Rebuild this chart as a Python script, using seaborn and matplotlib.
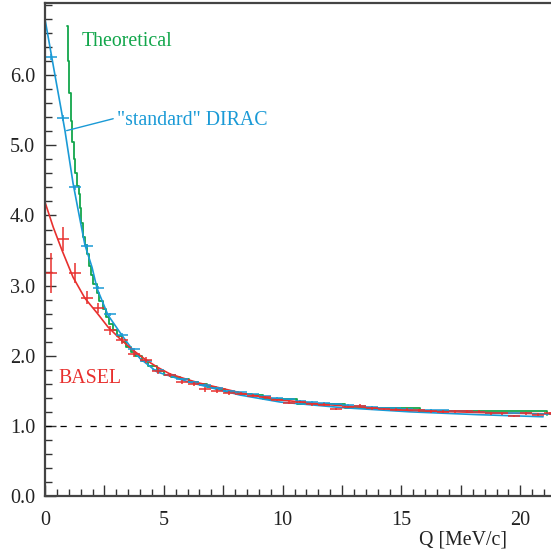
"""
Coulomb correction vs Q: theoretical histogram, DIRAC and BASEL results.
"""

import numpy as np
import pandas as pd
import matplotlib
matplotlib.use('Agg')
import matplotlib.pyplot as plt
from matplotlib.ticker import MultipleLocator, FixedLocator, FuncFormatter
import seaborn as sns


GREEN = '#12a64b'
BLUE = '#1a9ad6'
RED = '#e8302e'

# bin centres of the measured points [MeV/c]
q_bins = np.arange(0.25, 21.5, 0.5)

basel_pts = [3.18, 3.66, 3.18, 2.83, 2.68, 2.36, 2.22, 2.03, 1.94, 1.78,
             1.73, 1.63, 1.60, 1.52, 1.50, 1.47, 1.46, 1.43, 1.41, 1.37,
             1.33, 1.34, 1.31, 1.30, 1.24, 1.27, 1.29, 1.25, 1.24, 1.23,
             1.23, 1.22, 1.21, 1.20, 1.21, 1.21, 1.20, 1.18, 1.18, 1.14,
             1.18, 1.16, 1.18]
basel_err = [0.29, 0.17, 0.14, 0.09, 0.07, 0.06, 0.05, 0.05, 0.04, 0.04,
             0.03, 0.03, 0.03, 0.03, 0.03, 0.03, 0.02, 0.02, 0.02, 0.02,
             0.02, 0.02, 0.02, 0.02, 0.02, 0.02, 0.02, 0.02, 0.02, 0.02,
             0.02, 0.02, 0.02, 0.02, 0.02, 0.02, 0.02, 0.02, 0.02, 0.02,
             0.02, 0.02, 0.02]

dirac_pts = [6.26, 5.39, 4.40, 3.57, 2.97, 2.59, 2.30, 2.09, 1.93, 1.80,
             1.73, 1.67, 1.63, 1.58, 1.54, 1.50, 1.48, 1.45, 1.42, 1.40,
             1.38, 1.36, 1.34, 1.33, 1.31, 1.30, 1.28, 1.27, 1.26, 1.25,
             1.24, 1.23, 1.23, 1.22, 1.21, 1.21, 1.20, 1.19, 1.19, 1.18,
             1.18, 1.17, 1.17]
dirac_err = [0.04, 0.04, 0.03, 0.03, 0.02, 0.02, 0.02, 0.02, 0.02, 0.01,
             0.01, 0.01, 0.01, 0.01, 0.01, 0.01, 0.01, 0.01, 0.01, 0.01,
             0.01, 0.01, 0.01, 0.01, 0.01, 0.01, 0.01, 0.01, 0.01, 0.01,
             0.01, 0.01, 0.01, 0.01, 0.01, 0.01, 0.01, 0.01, 0.01, 0.01,
             0.01, 0.01, 0.01]

# smooth curves
dirac_q = [0, 0.42, 0.84, 1.18, 1.45, 1.68, 1.98, 2.19, 2.65, 3.24, 3.70,
           4.00, 4.71, 6.10, 8.20, 9.89, 12.5, 15.36, 18.2, 20.96]
dirac_curve = [6.80, 6.00, 5.21, 4.46, 3.98, 3.58, 3.26, 2.96, 2.58, 2.29,
               2.08, 1.96, 1.77, 1.62, 1.44, 1.34, 1.26, 1.20, 1.16, 1.13]

basel_q = [0, 0.35, 0.72, 1.18, 1.68, 2.19, 2.65, 3.16, 3.70, 4.21, 4.71,
           5.26, 6.0, 6.5, 7.5, 8.5, 9.89, 12.0, 15.36, 18.3, 21.4]
basel_curve = [4.19, 3.83, 3.50, 3.12, 2.82, 2.61, 2.41, 2.24, 2.08, 1.95,
               1.84, 1.74, 1.66, 1.61, 1.53, 1.45, 1.37, 1.30, 1.22, 1.19,
               1.17]

# theoretical histogram: left bin edges and contents
theo_edges = [0.93, 0.97, 1.02, 1.09, 1.14, 1.20, 1.26, 1.33, 1.41, 1.46,
              1.53, 1.61, 1.69, 1.77, 1.85, 1.95, 2.04, 2.17, 2.27, 2.42,
              2.56, 2.70, 2.85, 3.04, 3.22, 3.42, 3.60, 3.79, 4.07, 4.35,
              4.73, 5.02, 5.30, 5.68, 6.06, 6.43, 6.81, 7.19, 7.57, 8.14,
              8.71, 9.17, 10.6, 12.63, 15.78, 21.13]
theo_vals = [6.70, 6.20, 5.75, 5.35, 5.05, 4.80, 4.60, 4.42, 4.30, 4.10,
             3.90, 3.70, 3.58, 3.45, 3.28, 3.15, 3.02, 2.90, 2.78, 2.66,
             2.55, 2.45, 2.37, 2.28, 2.20, 2.12, 2.05, 1.99, 1.93, 1.86,
             1.78, 1.73, 1.70, 1.67, 1.63, 1.60, 1.55, 1.52, 1.49, 1.46,
             1.44, 1.39, 1.31, 1.26, 1.21, 1.15]

y_major = [0, 1, 2, 3, 4, 5, 6]


sns.set_theme(style='ticks')
plt.rcParams['font.family'] = ['Liberation Serif', 'DejaVu Serif']

fig = plt.figure(figsize=(5.51, 5.54), dpi=100)
ax = fig.add_axes([45 / 551, 58 / 554, 0.923, 493 / 554])

theo = pd.DataFrame({'q': theo_edges, 'a': theo_vals})
sns.lineplot(data=theo, x='q', y='a', ax=ax, color=GREEN, lw=1.3,
             drawstyle='steps-post', estimator=None, sort=False)

sns.lineplot(x=dirac_q, y=dirac_curve, ax=ax, color=BLUE, lw=1.2,
             estimator=None, sort=False)
sns.lineplot(x=basel_q, y=basel_curve, ax=ax, color=RED, lw=1.2,
             estimator=None, sort=False)

ax.errorbar(q_bins, dirac_pts, xerr=0.25, yerr=dirac_err, fmt='none',
            ecolor=BLUE, elinewidth=1.1, capsize=0)
ax.errorbar(q_bins, basel_pts, xerr=0.25, yerr=basel_err, fmt='none',
            ecolor=RED, elinewidth=1.1, capsize=0)

ax.axhline(1.0, color='black', lw=0.9, ls=(0, (5, 7)))

ax.text(1.56, 6.48, 'Theoretical', color=GREEN, fontsize=14.3,
        ha='left', va='center')
ax.plot([0.91, 2.87], [5.21, 5.38], color=BLUE, lw=1.0)
ax.text(3.05, 5.35, '"standard" DIRAC', color=BLUE, fontsize=14.3,
        ha='left', va='center')
ax.text(0.55, 1.68, 'BASEL', color=RED, fontsize=14.3,
        ha='left', va='center')

ax.set_xlim(0, 21.4)
ax.set_ylim(0, 7.03)
ax.set_xlabel('Q [MeV/c]', fontsize=14.3, color='#222222')
ax.xaxis.set_label_coords(0.822, -0.07)
ax.set_ylabel('')

ax.xaxis.set_major_locator(MultipleLocator(2.5))
ax.xaxis.set_minor_locator(MultipleLocator(0.5))
ax.xaxis.set_major_formatter(
    FuncFormatter(lambda v, p: f'{v:.0f}' if abs(v % 5) < 1e-6 else ''))
ax.yaxis.set_major_locator(FixedLocator(y_major))
ax.yaxis.set_minor_locator(MultipleLocator(0.2))
ax.yaxis.set_major_formatter(FuncFormatter(lambda v, p: f'{v:.1f}'))

ax.tick_params(which='both', direction='in', colors='#333333',
               labelcolor='#222222', labelsize=14.5)
ax.tick_params(which='major', length=8, width=1.0)
ax.tick_params(which='minor', length=5, width=1.0)
ax.tick_params(axis='x', which='major', pad=11)
ax.tick_params(axis='y', which='major', pad=7)

for side in ['left', 'bottom', 'top']:
    ax.spines[side].set_color('#444444')
    ax.spines[side].set_linewidth(1.6)
ax.spines['right'].set_visible(False)

fig.savefig('out.png', dpi=100)
plt.close(fig)
